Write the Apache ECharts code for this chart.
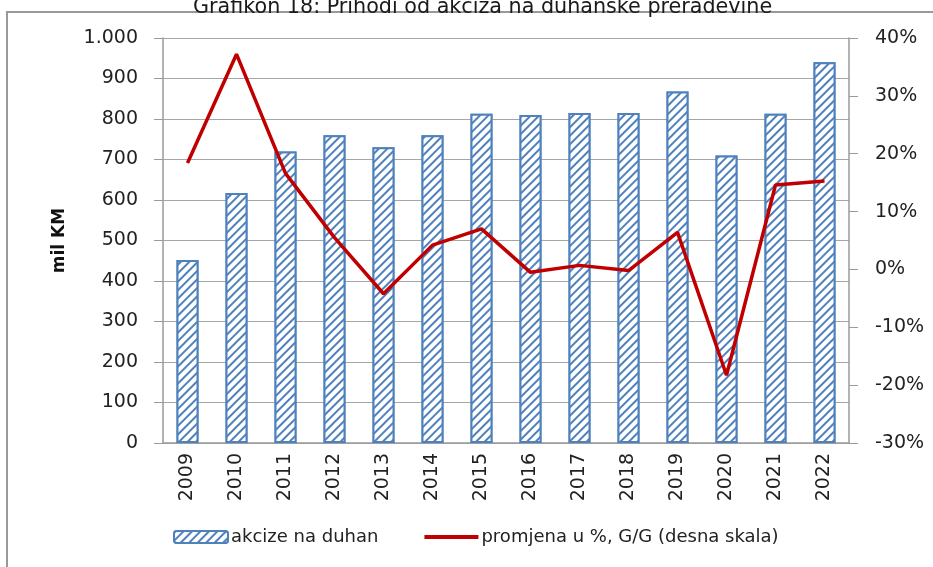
<!DOCTYPE html>
<html>
<head>
<meta charset="utf-8">
<script src="https://cdn.jsdelivr.net/npm/echarts@6/dist/echarts.min.js"></script>
<style>
  html, body { margin: 0; padding: 0; background: #fff; }
  #main { width: 933px; height: 567px; }
</style>
</head>
<body>
<div id="main"></div>
<script>
// podaci
var godine = ['2009','2010','2011','2012','2013','2014','2015','2016','2017','2018','2019','2020','2021','2022'];
var akcize = [452, 617, 720, 760, 730, 760, 813, 810, 815, 815, 868, 710, 813, 940];
var promjena = [18.4, 37.2, 16.6, 5.5, -4.2, 4.2, 7.0, -0.5, 0.7, -0.2, 6.4, -18.3, 14.6, 15.3];

var myChart = echarts.init(document.getElementById('main'));
var font = 'DejaVu Sans';

var option = {
    backgroundColor: '#fff',
    title: {
        text: 'Grafikon 18: Prihodi od akciza na duhanske prerađevine',
        left: 188,
        top: -8,
        textStyle: { fontFamily: font, fontSize: 20.7, fontWeight: 'normal', color: '#1a1a1a' }
    },
    graphic: [{
        type: 'rect',
        shape: { x: 7, y: 12, width: 940, height: 580 },
        style: { fill: 'none', stroke: '#999999', lineWidth: 2 },
        silent: true
    }],
    legend: {
        bottom: 16,
        left: 168,
        itemWidth: 54,
        itemHeight: 12,
        itemGap: 46,
        textStyle: { fontFamily: font, fontSize: 18, color: '#222', padding: [0, 0, 0, -2] },
        data: [
            { name: 'akcize na duhan' },
            { name: 'promjena u %, G/G (desna skala)', icon: 'path://M0 0H54V4H0Z' }
        ]
    },
    grid: { left: 163, right: 84, top: 38, bottom: 124 },
    xAxis: {
        type: 'category',
        data: godine,
        axisLine: { lineStyle: { color: '#9a9a9a', width: 1.5 } },
        axisTick: { length: 7, lineStyle: { color: '#9a9a9a' } },
        axisLabel: { rotate: 90, margin: 10, fontFamily: font, fontSize: 19, color: '#222' }
    },
    yAxis: [{
        type: 'value',
        min: 0, max: 1000, interval: 100,
        name: 'mil KM',
        nameLocation: 'middle',
        nameRotate: 90,
        nameGap: 95,
        nameTextStyle: { fontFamily: font, fontSize: 17, fontWeight: 'bold', color: '#111' },
        axisLine: { show: true, lineStyle: { color: '#9a9a9a', width: 1.5 } },
        axisTick: { show: true, length: 9, lineStyle: { color: '#9a9a9a' } },
        axisLabel: {
            margin: 25, fontFamily: font, fontSize: 19, color: '#222',
            formatter: function (v) { return v >= 1000 ? (v / 1000) + '.000' : v; }
        },
        splitLine: { lineStyle: { color: '#a6a6a6', width: 1 } }
    }, {
        type: 'value',
        min: -30, max: 40, interval: 10,
        position: 'right',
        axisLine: { show: true, lineStyle: { color: '#9a9a9a', width: 1.5 } },
        axisTick: { show: true, length: 9, lineStyle: { color: '#9a9a9a' } },
        axisLabel: { margin: 26, fontFamily: font, fontSize: 19, color: '#222', formatter: '{value}%' },
        splitLine: { show: false }
    }],
    series: [{
        name: 'akcize na duhan',
        type: 'bar',
        data: akcize,
        barWidth: 22,
        itemStyle: {
            color: '#ffffff',
            borderColor: '#4f81bd',
            borderWidth: 2,
            decal: {
                symbol: 'rect',
                symbolSize: 1,
                dashArrayX: [1, 0],
                dashArrayY: [2, 4],
                rotation: -Math.PI / 4,
                color: '#4f81bd',
                backgroundColor: '#ffffff'
            }
        }
    }, {
        name: 'promjena u %, G/G (desna skala)',
        type: 'line',
        yAxisIndex: 1,
        data: promjena,
        symbol: 'none',
        lineStyle: { color: '#c00000', width: 3.5 },
        itemStyle: { color: '#c00000' }
    }]
};
myChart.setOption(option);
</script>
</body>
</html>
